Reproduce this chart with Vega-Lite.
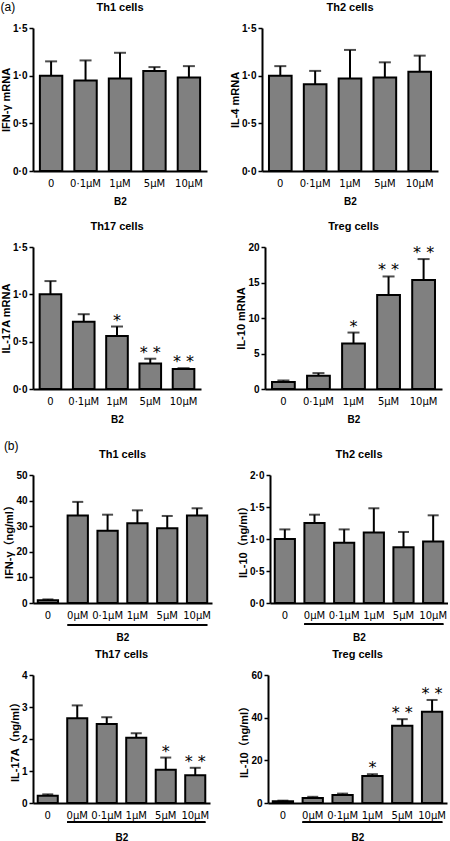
{
  "$schema": "https://vega.github.io/schema/vega-lite/v6.json",
  "padding": {"left": 0, "top": 1, "right": 0, "bottom": 0},
  "background": "white",
  "config": {
    "view": {"stroke": null},
    "font": "Liberation Sans",
    "axis": {"grid": false, "domainColor": "black", "tickColor": "black", "labelColor": "black", "titleColor": "black"},
    "axisY": {"labelFont": "Liberation Sans", "labelFontWeight": "bold", "labelFontSize": 10, "titleFont": "Liberation Sans, Noto Sans CJK SC", "titleFontSize": 11, "titleFontWeight": "bold", "tickSize": 4, "tickWidth": 1.5, "domainWidth": 2, "labelPadding": 2, "titlePadding": 1, "labelOverlap": false},
    "axisX": {"labelFont": "DejaVu Sans", "labelFontSize": 10, "labelFontWeight": "normal", "labelAngle": 0, "ticks": false, "domainWidth": 2, "labelPadding": 7, "titleFont": "Liberation Sans", "titleFontSize": 10, "titleFontWeight": "bold", "titlePadding": 8, "labelOverlap": false},
    "title": {"font": "Liberation Sans", "fontSize": 11, "fontWeight": "bold", "color": "black", "offset": 10}
  },
  "datasets": {
    "a1": [
      {"dose": "0", "mean": 1.0, "upper": 1.15, "sig": ""},
      {"dose": "0·1µM", "mean": 0.95, "upper": 1.16, "sig": ""},
      {"dose": "1µM", "mean": 0.97, "upper": 1.24, "sig": ""},
      {"dose": "5µM", "mean": 1.05, "upper": 1.09, "sig": ""},
      {"dose": "10µM", "mean": 0.98, "upper": 1.10, "sig": ""}
    ],
    "a2": [
      {"dose": "0", "mean": 1.0, "upper": 1.10, "sig": ""},
      {"dose": "0·1µM", "mean": 0.91, "upper": 1.05, "sig": ""},
      {"dose": "1µM", "mean": 0.97, "upper": 1.27, "sig": ""},
      {"dose": "5µM", "mean": 0.98, "upper": 1.14, "sig": ""},
      {"dose": "10µM", "mean": 1.04, "upper": 1.21, "sig": ""}
    ],
    "a3": [
      {"dose": "0", "mean": 1.0, "upper": 1.14, "sig": ""},
      {"dose": "0·1µM", "mean": 0.71, "upper": 0.79, "sig": ""},
      {"dose": "1µM", "mean": 0.56, "upper": 0.66, "sig": "*"},
      {"dose": "5µM", "mean": 0.27, "upper": 0.32, "sig": "* *"},
      {"dose": "10µM", "mean": 0.21, "upper": 0.22, "sig": "* *"}
    ],
    "a4": [
      {"dose": "0", "mean": 1.0, "upper": 1.2, "sig": ""},
      {"dose": "0·1µM", "mean": 1.87, "upper": 2.24, "sig": ""},
      {"dose": "1µM", "mean": 6.4, "upper": 7.95, "sig": "*"},
      {"dose": "5µM", "mean": 13.25, "upper": 15.85, "sig": "* *"},
      {"dose": "10µM", "mean": 15.35, "upper": 18.3, "sig": "* *"}
    ],
    "b1": [
      {"dose": "0", "mean": 1.1, "upper": 1.4, "sig": ""},
      {"dose": "0µM", "mean": 34.2, "upper": 39.5, "sig": ""},
      {"dose": "0·1µM", "mean": 28.2, "upper": 34.5, "sig": ""},
      {"dose": "1µM", "mean": 31.2, "upper": 36.2, "sig": ""},
      {"dose": "5µM", "mean": 29.2, "upper": 34.0, "sig": ""},
      {"dose": "10µM", "mean": 34.2, "upper": 37.0, "sig": ""}
    ],
    "b2": [
      {"dose": "0", "mean": 1.0, "upper": 1.15, "sig": ""},
      {"dose": "0µM", "mean": 1.25, "upper": 1.38, "sig": ""},
      {"dose": "0·1µM", "mean": 0.94, "upper": 1.15, "sig": ""},
      {"dose": "1µM", "mean": 1.10, "upper": 1.48, "sig": ""},
      {"dose": "5µM", "mean": 0.87, "upper": 1.11, "sig": ""},
      {"dose": "10µM", "mean": 0.96, "upper": 1.37, "sig": ""}
    ],
    "b3": [
      {"dose": "0", "mean": 0.23, "upper": 0.27, "sig": ""},
      {"dose": "0µM", "mean": 2.65, "upper": 3.05, "sig": ""},
      {"dose": "0·1µM", "mean": 2.47, "upper": 2.68, "sig": ""},
      {"dose": "1µM", "mean": 2.04, "upper": 2.18, "sig": ""},
      {"dose": "5µM", "mean": 1.04, "upper": 1.42, "sig": "*"},
      {"dose": "10µM", "mean": 0.87, "upper": 1.10, "sig": "* *"}
    ],
    "b4": [
      {"dose": "0", "mean": 0.8, "upper": 1.1, "sig": ""},
      {"dose": "0µM", "mean": 2.3, "upper": 2.9, "sig": ""},
      {"dose": "0·1µM", "mean": 3.7, "upper": 4.4, "sig": ""},
      {"dose": "1µM", "mean": 12.6, "upper": 13.5, "sig": "*"},
      {"dose": "5µM", "mean": 36.2, "upper": 39.3, "sig": "* *"},
      {"dose": "10µM", "mean": 42.8, "upper": 48.3, "sig": "* *"}
    ]
  },
  "spacing": 16,
  "vconcat": [
    {
      "title": {"text": "(a)", "anchor": "start", "fontSize": 12, "fontWeight": "normal", "offset": -12, "frame": "bounds"},
      "spacing": 15,
      "vconcat": [
        {
          "spacing": 22,
          "hconcat": [
            {
              "width": 174, "height": 143, "title": "Th1 cells", "data": {"name": "a1"},
              "encoding": {"x": {"field": "dose", "type": "nominal", "sort": null, "title": "B2", "scale": {"paddingInner": 0.35, "paddingOuter": 0.2}}},
              "layer": [
                {"mark": {"type": "bar", "fill": "#808080", "stroke": "black", "strokeWidth": 2}, "encoding": {"y": {"field": "mean", "type": "quantitative", "title": "IFN-γ mRNA", "scale": {"domain": [0, 1.5], "nice": false}, "axis": {"values": [0, 0.5, 1, 1.5], "labelExpr": "replace(format(datum.value, '.1f'), '.', '·')"}}}},
                {"mark": {"type": "rule", "strokeWidth": 2, "color": "black"}, "encoding": {"y": {"field": "mean", "type": "quantitative", "axis": {"values": [0, 0.5, 1, 1.5], "labelExpr": "replace(format(datum.value, '.1f'), '.', '·')"}}, "y2": {"field": "upper"}}},
                {"mark": {"type": "tick", "thickness": 2, "size": 12, "color": "black"}, "encoding": {"y": {"field": "upper", "type": "quantitative", "axis": {"values": [0, 0.5, 1, 1.5], "labelExpr": "replace(format(datum.value, '.1f'), '.', '·')"}}}}
              ]
            },
            {
              "width": 176, "height": 143, "title": "Th2 cells", "data": {"name": "a2"},
              "encoding": {"x": {"field": "dose", "type": "nominal", "sort": null, "title": "B2", "scale": {"paddingInner": 0.35, "paddingOuter": 0.2}}},
              "layer": [
                {"mark": {"type": "bar", "fill": "#808080", "stroke": "black", "strokeWidth": 2}, "encoding": {"y": {"field": "mean", "type": "quantitative", "title": "IL-4 mRNA", "scale": {"domain": [0, 1.5], "nice": false}, "axis": {"values": [0, 0.5, 1, 1.5], "labelExpr": "replace(format(datum.value, '.1f'), '.', '·')"}}}},
                {"mark": {"type": "rule", "strokeWidth": 2, "color": "black"}, "encoding": {"y": {"field": "mean", "type": "quantitative", "axis": {"values": [0, 0.5, 1, 1.5], "labelExpr": "replace(format(datum.value, '.1f'), '.', '·')"}}, "y2": {"field": "upper"}}},
                {"mark": {"type": "tick", "thickness": 2, "size": 12, "color": "black"}, "encoding": {"y": {"field": "upper", "type": "quantitative", "axis": {"values": [0, 0.5, 1, 1.5], "labelExpr": "replace(format(datum.value, '.1f'), '.', '·')"}}}}
              ]
            }
          ]
        },
        {
          "spacing": 34,
          "hconcat": [
            {
              "width": 168, "height": 142, "title": "Th17 cells", "data": {"name": "a3"},
              "encoding": {"x": {"field": "dose", "type": "nominal", "sort": null, "title": "B2", "scale": {"paddingInner": 0.35, "paddingOuter": 0.2}}},
              "layer": [
                {"mark": {"type": "bar", "fill": "#808080", "stroke": "black", "strokeWidth": 2}, "encoding": {"y": {"field": "mean", "type": "quantitative", "title": "IL-17A mRNA", "scale": {"domain": [0, 1.5], "nice": false}, "axis": {"values": [0, 0.5, 1, 1.5], "labelExpr": "replace(format(datum.value, '.1f'), '.', '·')"}}}},
                {"mark": {"type": "rule", "strokeWidth": 2, "color": "black"}, "encoding": {"y": {"field": "mean", "type": "quantitative", "axis": {"values": [0, 0.5, 1, 1.5], "labelExpr": "replace(format(datum.value, '.1f'), '.', '·')"}}, "y2": {"field": "upper"}}},
                {"mark": {"type": "tick", "thickness": 2, "size": 12, "color": "black"}, "encoding": {"y": {"field": "upper", "type": "quantitative", "axis": {"values": [0, 0.5, 1, 1.5], "labelExpr": "replace(format(datum.value, '.1f'), '.', '·')"}}}},
                {"mark": {"type": "text", "font": "DejaVu Sans", "fontSize": 16, "baseline": "alphabetic", "dy": -1, "fill": "black"}, "encoding": {"y": {"field": "upper", "type": "quantitative", "axis": {"values": [0, 0.5, 1, 1.5], "labelExpr": "replace(format(datum.value, '.1f'), '.', '·')"}}, "text": {"field": "sig"}}}
              ]
            },
            {
              "width": 177, "height": 142, "title": "Treg cells", "data": {"name": "a4"},
              "encoding": {"x": {"field": "dose", "type": "nominal", "sort": null, "title": "B2", "scale": {"paddingInner": 0.35, "paddingOuter": 0.2}}},
              "layer": [
                {"mark": {"type": "bar", "fill": "#808080", "stroke": "black", "strokeWidth": 2}, "encoding": {"y": {"field": "mean", "type": "quantitative", "title": "IL-10 mRNA", "scale": {"domain": [0, 20], "nice": false}, "axis": {"values": [0, 5, 10, 15, 20]}}}},
                {"mark": {"type": "rule", "strokeWidth": 2, "color": "black"}, "encoding": {"y": {"field": "mean", "type": "quantitative", "axis": {"values": [0, 5, 10, 15, 20]}}, "y2": {"field": "upper"}}},
                {"mark": {"type": "tick", "thickness": 2, "size": 12, "color": "black"}, "encoding": {"y": {"field": "upper", "type": "quantitative", "axis": {"values": [0, 5, 10, 15, 20]}}}},
                {"mark": {"type": "text", "font": "DejaVu Sans", "fontSize": 16, "baseline": "alphabetic", "dy": -1, "fill": "black"}, "encoding": {"y": {"field": "upper", "type": "quantitative", "axis": {"values": [0, 5, 10, 15, 20]}}, "text": {"field": "sig"}}}
              ]
            }
          ]
        }
      ]
    },
    {
      "title": {"text": "(b)", "anchor": "start", "fontSize": 12, "fontWeight": "normal", "offset": -4, "frame": "bounds"},
      "spacing": 7,
      "vconcat": [
        {
          "spacing": 25,
          "hconcat": [
            {
              "width": 179, "height": 128, "title": "Th1 cells", "data": {"name": "b1"},
              "encoding": {"x": {"field": "dose", "type": "nominal", "sort": null, "title": "B2", "axis": {"titlePadding": 12}, "scale": {"paddingInner": 0.32, "paddingOuter": 0.16}}},
              "layer": [
                {"mark": {"type": "bar", "fill": "#808080", "stroke": "black", "strokeWidth": 2}, "encoding": {"y": {"field": "mean", "type": "quantitative", "title": "IFN-γ（ng/ml）", "scale": {"domain": [0, 50], "nice": false}, "axis": {"values": [0, 10, 20, 30, 40, 50]}}}},
                {"mark": {"type": "rule", "strokeWidth": 2, "color": "black"}, "encoding": {"y": {"field": "mean", "type": "quantitative", "axis": {"values": [0, 10, 20, 30, 40, 50]}}, "y2": {"field": "upper"}}},
                {"mark": {"type": "tick", "thickness": 2, "size": 11, "color": "black"}, "encoding": {"y": {"field": "upper", "type": "quantitative", "axis": {"values": [0, 10, 20, 30, 40, 50]}}}},
                {"mark": {"type": "rule", "strokeWidth": 1.2, "color": "black"}, "encoding": {"x": {"datum": "0µM", "bandPosition": 0}, "x2": {"datum": "10µM", "bandPosition": 1}, "y": {"datum": -8.6, "axis": {"values": [0, 10, 20, 30, 40, 50]}}}}
              ]
            },
            {
              "width": 178, "height": 128, "title": "Th2 cells", "data": {"name": "b2"},
              "encoding": {"x": {"field": "dose", "type": "nominal", "sort": null, "title": "B2", "axis": {"titlePadding": 12}, "scale": {"paddingInner": 0.32, "paddingOuter": 0.16}}},
              "layer": [
                {"mark": {"type": "bar", "fill": "#808080", "stroke": "black", "strokeWidth": 2}, "encoding": {"y": {"field": "mean", "type": "quantitative", "title": "IL-10（ng/ml）", "scale": {"domain": [0, 2], "nice": false}, "axis": {"values": [0, 0.5, 1, 1.5, 2], "labelExpr": "replace(format(datum.value, '.1f'), '.', '·')"}}}},
                {"mark": {"type": "rule", "strokeWidth": 2, "color": "black"}, "encoding": {"y": {"field": "mean", "type": "quantitative", "axis": {"values": [0, 0.5, 1, 1.5, 2], "labelExpr": "replace(format(datum.value, '.1f'), '.', '·')"}}, "y2": {"field": "upper"}}},
                {"mark": {"type": "tick", "thickness": 2, "size": 11, "color": "black"}, "encoding": {"y": {"field": "upper", "type": "quantitative", "axis": {"values": [0, 0.5, 1, 1.5, 2], "labelExpr": "replace(format(datum.value, '.1f'), '.', '·')"}}}},
                {"mark": {"type": "rule", "strokeWidth": 1.2, "color": "black"}, "encoding": {"x": {"datum": "0µM", "bandPosition": 0}, "x2": {"datum": "10µM", "bandPosition": 1}, "y": {"datum": -0.33, "axis": {"values": [0, 0.5, 1, 1.5, 2], "labelExpr": "replace(format(datum.value, '.1f'), '.', '·')"}}}}
              ]
            }
          ]
        },
        {
          "spacing": 28,
          "hconcat": [
            {
              "width": 177, "height": 128, "title": "Th17 cells", "data": {"name": "b3"},
              "encoding": {"x": {"field": "dose", "type": "nominal", "sort": null, "title": "B2", "axis": {"titlePadding": 12}, "scale": {"paddingInner": 0.32, "paddingOuter": 0.16}}},
              "layer": [
                {"mark": {"type": "bar", "fill": "#808080", "stroke": "black", "strokeWidth": 2}, "encoding": {"y": {"field": "mean", "type": "quantitative", "title": "IL-17A（ng/ml）", "scale": {"domain": [0, 4], "nice": false}, "axis": {"values": [0, 1, 2, 3, 4]}}}},
                {"mark": {"type": "rule", "strokeWidth": 2, "color": "black"}, "encoding": {"y": {"field": "mean", "type": "quantitative", "axis": {"values": [0, 1, 2, 3, 4]}}, "y2": {"field": "upper"}}},
                {"mark": {"type": "tick", "thickness": 2, "size": 11, "color": "black"}, "encoding": {"y": {"field": "upper", "type": "quantitative", "axis": {"values": [0, 1, 2, 3, 4]}}}},
                {"mark": {"type": "text", "font": "DejaVu Sans", "fontSize": 16, "baseline": "alphabetic", "dy": -1, "fill": "black"}, "encoding": {"y": {"field": "upper", "type": "quantitative", "axis": {"values": [0, 1, 2, 3, 4]}}, "text": {"field": "sig"}}},
                {"mark": {"type": "rule", "strokeWidth": 1.2, "color": "black"}, "encoding": {"x": {"datum": "0µM", "bandPosition": 0}, "x2": {"datum": "10µM", "bandPosition": 1}, "y": {"datum": -0.6, "axis": {"values": [0, 1, 2, 3, 4]}}}}
              ]
            },
            {
              "width": 179, "height": 128, "title": "Treg cells", "data": {"name": "b4"},
              "encoding": {"x": {"field": "dose", "type": "nominal", "sort": null, "title": "B2", "axis": {"titlePadding": 12}, "scale": {"paddingInner": 0.32, "paddingOuter": 0.16}}},
              "layer": [
                {"mark": {"type": "bar", "fill": "#808080", "stroke": "black", "strokeWidth": 2}, "encoding": {"y": {"field": "mean", "type": "quantitative", "title": "IL-10（ng/ml）", "scale": {"domain": [0, 60], "nice": false}, "axis": {"values": [0, 20, 40, 60]}}}},
                {"mark": {"type": "rule", "strokeWidth": 2, "color": "black"}, "encoding": {"y": {"field": "mean", "type": "quantitative", "axis": {"values": [0, 20, 40, 60]}}, "y2": {"field": "upper"}}},
                {"mark": {"type": "tick", "thickness": 2, "size": 11, "color": "black"}, "encoding": {"y": {"field": "upper", "type": "quantitative", "axis": {"values": [0, 20, 40, 60]}}}},
                {"mark": {"type": "text", "font": "DejaVu Sans", "fontSize": 16, "baseline": "alphabetic", "dy": -1, "fill": "black"}, "encoding": {"y": {"field": "upper", "type": "quantitative", "axis": {"values": [0, 20, 40, 60]}}, "text": {"field": "sig"}}},
                {"mark": {"type": "rule", "strokeWidth": 1.2, "color": "black"}, "encoding": {"x": {"datum": "0µM", "bandPosition": 0}, "x2": {"datum": "10µM", "bandPosition": 1}, "y": {"datum": -9, "axis": {"values": [0, 20, 40, 60]}}}}
              ]
            }
          ]
        }
      ]
    }
  ]
}
